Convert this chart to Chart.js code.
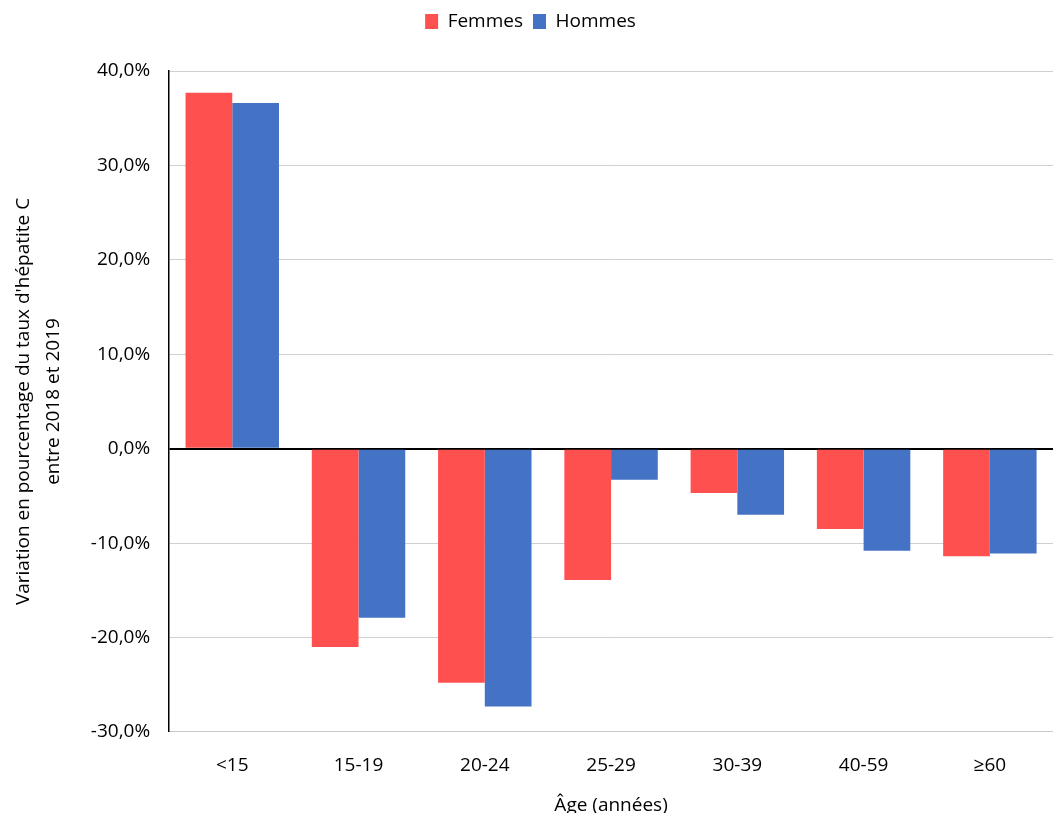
<!DOCTYPE html>
<html lang="fr">
<head>
<meta charset="utf-8">
<script src="https://cdn.jsdelivr.net/npm/chart.js@4/dist/chart.umd.min.js"></script>
<style>
  html, body { margin: 0; padding: 0; background: #ffffff; }
  #wrap { width: 1053px; height: 813px; }
</style>
</head>
<body>
<div id="wrap"><canvas id="chart"></canvas></div>
<script>
// Tranches d'âge
const ageGroups = ['<15', '15-19', '20-24', '25-29', '30-39', '40-59', '≥60'];
// Variation (%) du taux d'hépatite C entre 2018 et 2019
const femmes = [37.7, -21.0, -24.8, -13.9, -4.7, -8.5, -11.4];
const hommes = [36.6, -17.9, -27.3, -3.3, -7.0, -10.8, -11.1];
// Graduations de l'axe vertical
const yTicks = { min: -30, max: 40, step: 10 };

const fontFamily = "'Open Sans', 'Noto Sans', sans-serif";
const fmtPct = v => v.toFixed(1).replace('.', ',') + '%';

// Espace supplémentaire sous la légende
const legendGap = {
  id: 'legendGap',
  beforeInit(chart) {
    const fit = chart.legend.fit;
    chart.legend.fit = function () {
      fit.call(this);
      this.height += 30;
    };
  }
};

new Chart(document.getElementById('chart'), {
  type: 'bar',
  data: {
    labels: ageGroups,
    datasets: [
      { label: 'Femmes', data: femmes, backgroundColor: '#ff5050' },
      { label: 'Hommes', data: hommes, backgroundColor: '#4472c4' }
    ]
  },
  plugins: [legendGap],
  options: {
    responsive: true,
    maintainAspectRatio: false,
    animation: false,
    layout: { padding: { left: 8, right: 0, top: 2, bottom: 0 } },
    datasets: { bar: { categoryPercentage: 0.74, barPercentage: 1.0 } },
    plugins: {
      legend: {
        position: 'top',
        labels: {
          font: { family: fontFamily, size: 19 },
          color: '#000',
          boxWidth: 13,
          boxHeight: 15,
          padding: 10
        }
      },
      tooltip: { enabled: false }
    },
    scales: {
      x: {
        grid: { display: false, drawTicks: false },
        border: { color: '#c8c8c8', width: 1 },
        ticks: { color: '#000', font: { family: fontFamily, size: 19 }, padding: 22 },
        title: {
          display: true,
          text: 'Âge (années)',
          color: '#000',
          font: { family: fontFamily, size: 19, lineHeight: 0.75 },
          padding: { top: 0, bottom: 0 }
        }
      },
      y: {
        min: yTicks.min,
        max: yTicks.max,
        ticks: {
          stepSize: yTicks.step,
          color: '#000',
          font: { family: fontFamily, size: 19 },
          padding: 19,
          callback: v => fmtPct(v)
        },
        grid: {
          drawTicks: false,
          color: ctx => ctx.tick && ctx.tick.value === 0 ? '#000' : '#d0d0d0',
          lineWidth: ctx => ctx.tick && ctx.tick.value === 0 ? 2 : 1
        },
        border: { color: '#000', width: 1.5 },
        title: {
          display: true,
          text: ["Variation en pourcentage du taux d'hépatite C", 'entre 2018 et 2019'],
          color: '#000',
          font: { family: fontFamily, size: 19, lineHeight: 1.6 },
          padding: { top: 0, bottom: 3 }
        }
      }
    }
  }
});
</script>
</body>
</html>
